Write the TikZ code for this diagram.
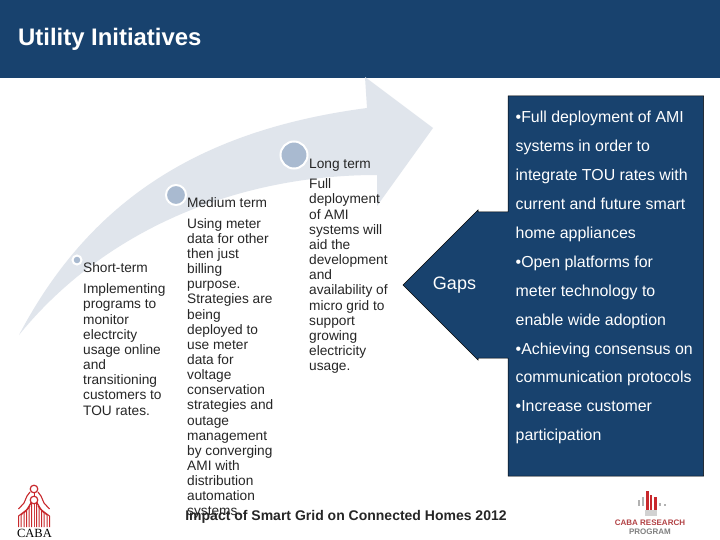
\documentclass[tikz,border=0pt]{standalone}
\usepackage{fontspec}
\setmainfont{Liberation Sans}
\definecolor{navy}{HTML}{18426E}
\definecolor{band}{HTML}{E0E5EC}
\definecolor{dot}{HTML}{A9BAD0}
\definecolor{cabared}{HTML}{C8282C}
\tikzset{
  px/.style={x=1pt,y=-1pt},
  lbl/.style={anchor=north west,inner sep=0pt,align=left,font=\fontsize{13.7}{15.15}\selectfont,text=black!85},
  head/.style={anchor=north west,inner sep=0pt,font=\fontsize{13.7}{15.15}\selectfont,text=black!85},
  gapline/.style={anchor=base west,inner sep=0pt,text=white,font=\fontsize{15.9}{18}\selectfont},
  ring/.style={circle,fill=dot,draw=white,line width=2pt,inner sep=0pt}
}
\begin{document}
\begin{tikzpicture}[px]
\useasboundingbox (0,0) rectangle (720,540);
\fill[white] (0,0) rectangle (720,540);
\fill[navy] (0,0) rectangle (720,78);
\node[anchor=base west,inner sep=0pt,text=white,font=\fontsize{23.9}{28}\bfseries\selectfont] (title) at (18,46) {Utility Initiatives};
% sweep arrow
\fill[band] (19,335) .. controls (90,200) and (200,130) .. (367,108) -- (365,77) -- (433,128) -- (377,206) -- (377,175) .. controls (230,175) and (100,235) .. (19,335) -- cycle;
% milestones
\node[ring,minimum size=9pt] (d1) at (77,260) {};
\node[ring,minimum size=20pt] (d2) at (176,195) {};
\node[ring,minimum size=27pt] (d3) at (294,155) {};
% texts
\node[head] (h1) at (83,262.5) {Short-term};
\node[lbl] (t1) at (83,283.7) {Implementing\\programs to\\monitor\\electrcity\\usage online\\and\\transitioning\\customers to\\TOU rates.};
\node[head] (h2) at (187,197) {Medium term};
\node[lbl] (t2) at (187,218) {Using meter\\data for other\\then just\\billing\\purpose.\\Strategies are\\being\\deployed to\\use meter\\data for\\voltage\\conservation\\strategies and\\outage\\management\\by converging\\AMI with\\distribution\\automation\\systems.};
\node[head] (h3) at (309,158.5) {Long term};
\node[lbl] (t3) at (309,178.7) {Full\\deployment\\of AMI\\systems will\\aid the\\development\\and\\availability of\\micro grid to\\support\\growing\\electricity\\usage.};
% gaps callout
\fill[navy,draw=black,line width=0.5pt] (508,96) -- (703.5,96) -- (703.5,476) -- (508,476) -- (508,358) -- (478,358) -- (478,360) -- (403,285) -- (478,210) -- (478,212) -- (508,212) -- cycle;
\node[anchor=center,inner sep=0pt,text=white,font=\fontsize{18}{20}\selectfont] (gaps) at (454.5,285) {Gaps};
\node[gapline] at (515.5,123) {•Full deployment of AMI};
\node[gapline] at (515.5,152) {systems in order to};
\node[gapline] at (515.5,181) {integrate TOU rates with};
\node[gapline] at (515.5,210) {current and future  smart};
\node[gapline] at (515.5,238) {home appliances};
\node[gapline] at (515.5,267) {•Open platforms for};
\node[gapline] at (515.5,296) {meter technology to};
\node[gapline] at (515.5,325) {enable wide adoption};
\node[gapline] at (515.5,354) {•Achieving consensus on};
\node[gapline] at (515.5,382) {communication protocols};
\node[gapline] at (515.5,411) {•Increase customer};
\node[gapline] at (515.5,440) {participation};
% footer
\node[anchor=base,inner sep=0pt,font=\fontsize{14}{16}\bfseries\selectfont,text=black!85] (foot) at (346,520) {Impact of Smart Grid on Connected Homes 2012};
% CABA logo
\foreach \d/\t in {0/495,2.5/500,5/503,7.5/506,10/509,13/511,15.5/512}{
  \draw[cabared,line width=1pt] (34-\d,527) -- (34-\d,\t+4) -- (34-\d*0.4,\t-3);
  \draw[cabared,line width=1pt] (34+\d,527) -- (34+\d,\t+4) -- (34+\d*0.4,\t-3);
}
\draw[cabared,line width=1.1pt] (16.5+2,509) -- (24,503) -- (27,496) -- (30,492) (49.5,509) -- (44,503) -- (41,496) -- (38,492);
\draw[cabared,line width=1.2pt,fill=white] (34,489) circle (3.8);
\draw[cabared,line width=1.2pt,fill=white] (34,500) circle (3.8);
\node[anchor=base,inner sep=0pt,font=\fontsize{12.5}{14}\selectfont] (caba) at (34.5,537.5) {\fontspec{Liberation Serif}CABA};
% research logo
\foreach \x/\a/\b/\c/\w in {639/500/506/gray!60/0.7,643/497/506/gray!60/0.7,647.5/491/510/cabared/1.8,651/495/510/cabared/1,655.5/497/510/cabared/1.2,660/503/506/gray!60/0.7,665/504/506/gray!60/0.7}{\fill[\c] (\x-\w,\a) rectangle (\x+\w,\b);}
\fill[gray!35] (645,510) rectangle (657,516);
\node[anchor=center,inner sep=0pt,align=center,font=\fontsize{8}{9}\bfseries\selectfont,text=cabared!70!gray] (prog) at (650,527.5) {CABA RESEARCH\\{\color{gray}PROGRAM}};
\end{tikzpicture}
\end{document}
